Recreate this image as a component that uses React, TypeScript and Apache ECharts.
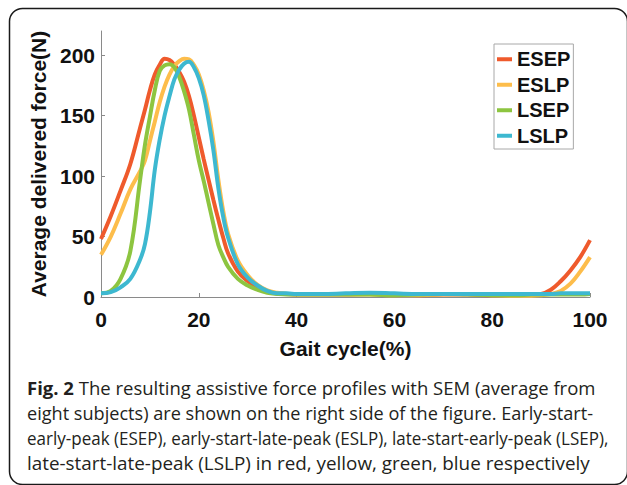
import React, { useEffect, useRef } from "react";
import * as echarts from "echarts";

const gaitPct = [0, 2, 4, 6, 8, 9, 10, 11, 12, 13, 14, 15, 16, 17, 18, 19, 20, 21, 22, 23, 24, 25, 26, 28, 30, 32, 34, 36, 38, 40, 45, 50, 55, 60, 65, 70, 75, 80, 85, 88, 90, 92, 94, 96, 98, 100];

const esep = [48, 67, 88, 110, 140, 155, 171, 184, 192, 197, 196, 192, 186, 178, 166, 150, 132, 114, 97, 80, 64, 49, 36, 21, 13, 8, 4.5, 3, 2.5, 2, 2, 2, 2.5, 2, 1.5, 2, 2, 1.5, 1.5, 2, 2.5, 6, 13, 22, 33, 47];
const eslp = [35, 50, 69, 89, 104, 113, 129, 145, 161, 174, 184, 191, 195, 197, 196.5, 192, 184, 171, 153, 128, 97, 71, 52, 30, 18, 10, 5.5, 3.5, 2.5, 2, 2, 2, 2, 1.5, 1.5, 2, 2.5, 1.5, 1, 1, 1.5, 2.5, 5, 11, 21, 33];
const lsep = [3, 5, 15, 38, 97, 126, 149, 171, 187, 191.5, 192.5, 190, 182, 170, 155, 134, 113, 96, 78, 60, 43, 33, 25, 15, 9.5, 6, 3.5, 2.5, 2, 2, 2, 2, 2, 1.5, 2, 2.5, 2, 1.5, 1.5, 2, 2, 2, 2, 2, 2, 2.5];
const lslp = [3, 4, 8, 15, 31, 44, 70, 105, 130, 150, 166, 180, 188, 193, 194.5, 190, 181, 167, 146, 121, 90, 66, 49, 27, 16, 9.5, 5, 3, 3, 2.5, 2.5, 3, 3.5, 3, 2.5, 2.5, 2.5, 2.5, 2.5, 2.5, 2.5, 2.5, 3, 3, 3, 3];

const seriesNames = ["ESEP", "ESLP", "LSEP", "LSLP"];
const seriesValues = [esep, eslp, lsep, lslp];
const seriesColors = ["#EF5A2C", "#FDBD4B", "#8DC540", "#3DB8D0"];

const xTicks = [0, 20, 40, 60, 80, 100];
const yTicks = [0, 50, 100, 150, 200];

const captionLines = [
  "{b|Fig. 2} The resulting assistive force profiles with SEM (average from",
  "eight subjects) are shown on the right side of the figure. Early-start-",
  "early-peak (ESEP), early-start-late-peak (ESLP), late-start-early-peak (LSEP),",
  "late-start-late-peak (LSLP) in red, yellow, green, blue respectively",
];
const captionScaleX = [1.0, 0.98, 0.92, 1.02];

export default function App() {
  const ref = useRef<HTMLDivElement>(null);
  useEffect(() => {
    document.body.style.margin = "0";
    if (!ref.current) return;
    const chart = echarts.init(ref.current, null, { renderer: "svg" });
    const boldFont = "'Liberation Sans', Arial, sans-serif";
    const capFont = "'Open Sans', 'Noto Sans', sans-serif";
    chart.setOption({
      animation: false,
      backgroundColor: "#ffffff",
      grid: { left: 101, right: 37, top: 31, bottom: 188, containLabel: false },
      legend: {
        orient: "vertical",
        left: 494,
        top: 44,
        data: seriesNames.map((n, i) => ({ name: n, itemStyle: { color: seriesColors[i] } })),
        icon: "rect",
        itemWidth: 15,
        itemHeight: 4,
        itemGap: 5,
        itemTextGap: 2,
        padding: [5, 3, 3, 3],
        borderColor: "#a8a8a8",
        borderWidth: 1,
        textStyle: { fontFamily: boldFont, fontWeight: "bold", fontSize: 20, color: "#111", lineHeight: 20.5 },
      },
      xAxis: {
        type: "value",
        min: 0,
        max: 100,
        interval: 20,
        name: "Gait cycle(%)",
        nameLocation: "middle",
        nameGap: 41,
        nameTextStyle: { fontFamily: boldFont, fontWeight: "bold", fontSize: 21, color: "#111" },
        axisLine: { show: true, lineStyle: { color: "#8a8a8a", width: 1 } },
        axisTick: { show: true, inside: true, length: 4, lineStyle: { color: "#8a8a8a" }, customValues: xTicks },
        axisLabel: { fontFamily: boldFont, fontWeight: "bold", fontSize: 21, color: "#111", margin: 12, customValues: xTicks },
        splitLine: { show: false },
      },
      yAxis: {
        type: "value",
        min: 0,
        max: 220,
        interval: 50,
        name: "Average delivered force(N)",
        nameLocation: "middle",
        nameRotate: 90,
        nameGap: 37,
        nameTextStyle: { fontFamily: boldFont, fontWeight: "bold", fontSize: 21, color: "#111" },
        axisLine: { show: true, lineStyle: { color: "#8a8a8a", width: 1 } },
        axisTick: { show: true, inside: true, length: 4, lineStyle: { color: "#8a8a8a" }, customValues: yTicks },
        axisLabel: { fontFamily: boldFont, fontWeight: "bold", fontSize: 21, color: "#111", margin: 6, customValues: yTicks },
        splitLine: { show: false },
      },
      series: seriesNames.map((name, i) => ({
        name,
        type: "line",
        smooth: 0.4,
        showSymbol: false,
        symbol: "none",
        data: gaitPct.map((x, k) => [x, seriesValues[i][k]]),
        lineStyle: { color: seriesColors[i], width: 4 },
        itemStyle: { color: seriesColors[i] },
        z: 2 + i,
      })),
      graphic: [
        {
          type: "rect",
          shape: { x: 9.5, y: 8.5, width: 618, height: 476, r: 13 },
          style: { fill: "none", stroke: "#1a1a1a", lineWidth: 1.5 },
          silent: true,
        },
        ...captionLines.map((t, i) => ({
          type: "text",
          x: 27,
          y: 378 + i * 25,
          scaleX: captionScaleX[i],
          style: {
            text: t,
            fontFamily: capFont,
            fontSize: 18.5,
            fill: "#231f20",
            textVerticalAlign: "top",
            rich: {
              b: { fontFamily: capFont, fontSize: 18.5, fontWeight: "bold", fill: "#231f20" },
            },
          },
        })),
      ],
    });
    return () => chart.dispose();
  }, []);
  return <div ref={ref} style={{ width: 627, height: 485 }} />;
}
